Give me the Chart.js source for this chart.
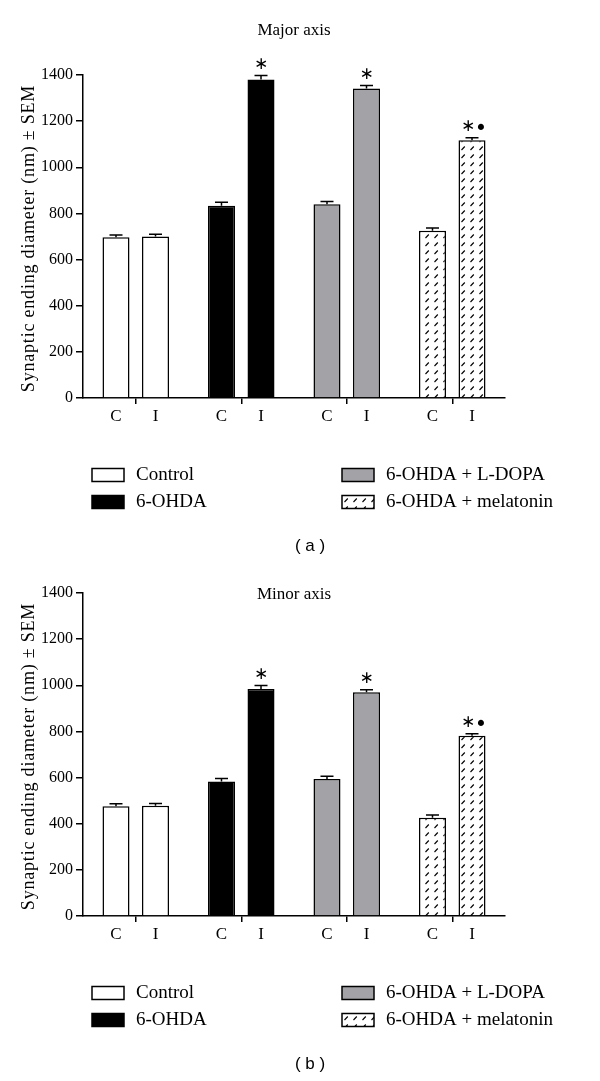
<!DOCTYPE html>
<html>
<head>
<meta charset="utf-8">
<script src="https://cdn.jsdelivr.net/npm/chart.js@4.4.0/dist/chart.umd.min.js"></script>
<style>
  body { margin: 0; background: #fff; }
  .panel { position: absolute; left: 0; width: 600px; height: 563px; }
</style>
</head>
<body>
<div class="panel" style="top:0"><canvas id="majorChart" width="600" height="563"></canvas></div>
<div class="panel" style="top:518px"><canvas id="minorChart" width="600" height="563"></canvas></div>
<script>
'use strict';

const groups = ['Control', '6-OHDA', '6-OHDA + L-DOPA', '6-OHDA + melatonin'];
const sides = ['C', 'I'];
const yTicks = [0, 200, 400, 600, 800, 1000, 1200, 1400];

// major axis (a)
const majorC = [697, 833, 840, 725];
const majorCSem = [10, 15, 12, 12];
const majorI = [700, 1380, 1341, 1117];
const majorISem = [10, 18, 13, 11];

// minor axis (b)
const minorC = [476, 583, 594, 426];
const minorCSem = [11, 13, 12, 12];
const minorI = [478, 984, 970, 781];
const minorISem = [10, 15, 11, 9];

// significance marks over the I bars
const sigC = ['', '', '', ''];
const sigI = ['', '\u2217', '\u2217', '\u2217\u2022'];

const SERIF = '"Liberation Serif", "Times New Roman", serif';

function makeHatch() {
    const c = document.createElement('canvas');
    c.width = 9;
    c.height = 8;
    const g = c.getContext('2d');
    g.fillStyle = '#fff';
    g.fillRect(0, 0, 9, 8);
    g.strokeStyle = '#000';
    g.lineWidth = 1.1;
    g.beginPath();
    g.moveTo(2.5, 6);
    g.lineTo(5.8, 2.5);
    g.stroke();
    return g.createPattern(c, 'repeat');
}

const hatch = makeHatch();
const groupFill = ['#ffffff', '#000000', '#a3a3a7', hatch];

const panelDecor = {
    id: 'panelDecor',
    afterDatasetsDraw(chart) {
        const ctx = chart.ctx;
        const y = chart.scales.y;
        const a = chart.chartArea;
        ctx.save();
        ctx.strokeStyle = '#000';
        ctx.fillStyle = '#000';
        ctx.lineWidth = 1.5;
        chart.data.datasets.forEach((ds, di) => {
            const meta = chart.getDatasetMeta(di);
            meta.data.forEach((bar, k) => {
                const top = y.getPixelForValue(ds.data[k] + ds.sem[k]);
                ctx.beginPath();
                ctx.moveTo(bar.x, bar.y);
                ctx.lineTo(bar.x, top);
                ctx.moveTo(bar.x - 6.5, top);
                ctx.lineTo(bar.x + 6.5, top);
                ctx.stroke();

                // C / I labels under each bar
                ctx.font = '17px ' + SERIF;
                ctx.textAlign = 'center';
                ctx.textBaseline = 'middle';
                ctx.fillText(sides[di], bar.x, a.bottom + 19);

                const sig = ds.sig[k];
                if (sig) {
                    const shift = sig.length > 1 ? -4 : 0;
                    ctx.font = '17px "DejaVu Sans"';
                    ctx.fillText(sig[0], bar.x + shift, top - 11);
                    if (sig.length > 1) {
                        ctx.font = '21px "DejaVu Sans"';
                        ctx.fillText(sig.slice(1), bar.x + 9, top - 8);
                    }
                }
            });
        });
        ctx.restore();
    },
    afterDraw(chart, args, opts) {
        const ctx = chart.ctx;
        const a = chart.chartArea;
        ctx.save();
        ctx.fillStyle = '#000';
        ctx.textBaseline = 'middle';

        ctx.font = '17px ' + SERIF;
        ctx.textAlign = 'center';
        ctx.fillText(opts.title, 294, a.top + opts.titleDy);

        // y axis title
        ctx.save();
        ctx.translate(29, (a.top + a.bottom) / 2 + 2);
        ctx.rotate(-Math.PI / 2);
        ctx.font = '18px ' + SERIF;
        ctx.letterSpacing = '0.8px';
        ctx.fillText('Synaptic ending diameter (nm) \u00b1 SEM', 0, 0);
        ctx.restore();

        // legend, two columns
        const colX = [92, 342];
        const rowY = [475, 502];
        groups.forEach((name, i) => {
            const bx = colX[Math.floor(i / 2)];
            const by = rowY[i % 2];
            ctx.fillStyle = groupFill[i];
            ctx.fillRect(bx, by - 6.5, 32, 13);
            ctx.strokeStyle = '#000';
            ctx.lineWidth = 1.5;
            ctx.strokeRect(bx, by - 6.5, 32, 13);
            ctx.fillStyle = '#000';
            ctx.font = '19px ' + SERIF;
            ctx.textAlign = 'left';
            ctx.fillText(name, bx + 44, by);
        });

        ctx.font = '17px "Liberation Sans", Arial, sans-serif';
        ctx.textAlign = 'center';
        ctx.fillText(opts.tag, 310, 546);
        ctx.restore();
    }
};

function buildChart(id, cVals, cSem, iVals, iSem, title, titleDy, tag) {
    return new Chart(document.getElementById(id), {
        type: 'bar',
        data: {
            labels: groups,
            datasets: [
                { label: sides[0], data: cVals, sem: cSem, sig: sigC, backgroundColor: groupFill,
                  borderColor: '#000', borderWidth: 1.5 },
                { label: sides[1], data: iVals, sem: iSem, sig: sigI, backgroundColor: groupFill,
                  borderColor: '#000', borderWidth: 1.5 }
            ]
        },
        options: {
            responsive: false,
            animation: false,
            events: [],
            categoryPercentage: 0.749,
            barPercentage: 0.684,
            layout: { padding: { top: 75, right: 95, left: 0, bottom: 0 } },
            plugins: {
                legend: { display: false },
                tooltip: { enabled: false },
                panelDecor: { title: title, titleDy: titleDy, tag: tag }
            },
            scales: {
                x: {
                    offset: true,
                    grid: { offset: false, drawOnChartArea: false, tickLength: 6, color: '#000', lineWidth: 1.5 },
                    border: { color: '#000', width: 1.5 },
                    ticks: { callback: () => '' },
                    afterFit: s => { s.height = 165; }
                },
                y: {
                    min: yTicks[0],
                    max: yTicks[yTicks.length - 1],
                    afterBuildTicks: s => { s.ticks = yTicks.map(v => ({ value: v })); },
                    ticks: { padding: 3, color: '#000', font: { family: SERIF, size: 16 },
                             callback: v => String(v) },
                    grid: { drawOnChartArea: false, tickLength: 7, color: '#000', lineWidth: 1.5 },
                    border: { color: '#000', width: 1.5 },
                    afterFit: s => { s.width = 83; }
                }
            }
        },
        plugins: [panelDecor]
    });
}

buildChart('majorChart', majorC, majorCSem, majorI, majorISem, 'Major axis', -44, '( a )');
buildChart('minorChart', minorC, minorCSem, minorI, minorISem, 'Minor axis', 2, '( b )');
</script>
</body>
</html>
